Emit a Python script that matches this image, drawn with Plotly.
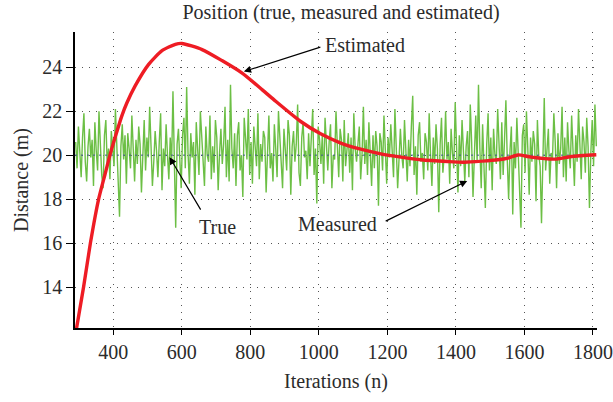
import plotly.graph_objects as go

# ---- data ----
iterations = list(range(290, 1811, 4))
measured = [
    20.6, 19.4, 21.3, 20.1, 19.0, 20.8, 21.9, 19.7, 18.8, 20.4, 21.2, 19.9, 20.7, 18.6, 21.5, 20.2, 19.3, 22.0, 20.5, 19.1,
    18.5, 20.9, 21.6, 19.6, 20.3, 18.9, 21.1, 20.0, 19.5, 22.1, 20.6, 19.2, 17.2, 20.4, 21.4, 19.8, 20.9, 18.7, 21.0, 20.3,
    19.4, 21.8, 20.2, 18.8, 20.7, 19.6, 21.3, 20.5, 18.3, 20.0, 21.6, 19.3, 20.8, 19.9, 22.2, 20.4, 18.6, 19.7, 21.1, 20.2,
    19.0, 20.6, 21.9, 18.4, 20.3, 19.5, 21.4, 20.0, 18.9, 20.8, 19.6, 22.9, 19.2, 16.7, 20.5, 21.2, 19.8, 18.5, 20.9, 21.7,
    19.4, 23.1, 20.1, 18.7, 21.0, 19.9, 20.6, 18.2, 21.5, 20.3, 19.1, 22.0, 20.7, 19.5, 18.6, 21.3, 20.0, 19.7, 21.8, 18.9,
    20.4, 19.2, 21.6, 20.8, 18.4, 20.1, 21.2, 19.6, 20.5, 22.2, 19.0, 20.7, 18.8, 23.2, 20.3, 19.4, 21.0, 18.6, 20.9, 21.5,
    19.3, 20.0, 18.1, 21.7, 20.4, 19.8, 22.1, 19.1, 20.6, 18.7, 21.3, 20.2, 19.5, 21.9, 18.9, 20.5, 19.7, 21.1, 20.8, 18.3,
    20.6, 21.8, 19.4, 20.1, 18.8, 21.4, 20.3, 19.0, 22.0, 20.7, 19.6, 18.5, 21.2, 20.0, 19.3, 21.6, 20.9, 18.2, 20.4, 21.1,
    19.7, 20.5, 22.3, 19.2, 18.6, 20.8, 21.5, 19.9, 20.2, 18.9, 21.0, 19.5, 20.6, 22.1, 19.1, 20.3, 17.8, 21.3, 20.7, 19.6,
    20.9, 18.7, 21.7, 20.1, 19.3, 20.6, 21.4, 18.5, 20.0, 19.8, 22.0, 20.4, 19.0, 21.2, 20.7, 18.8, 21.6, 19.5, 20.2, 21.0,
    19.2, 20.8, 18.4, 21.9, 20.3, 19.7, 20.5, 21.3, 18.9, 20.0, 22.2, 19.6, 20.7, 19.1, 21.5, 20.2, 18.6, 20.9, 19.4, 21.1,
    20.4, 17.7, 21.0, 20.6, 19.3, 21.8, 20.1, 18.7, 20.8, 19.9, 21.4, 20.3, 19.0, 22.1, 20.5, 18.5, 19.8, 21.2, 20.0, 19.4,
    21.6, 20.2, 18.8, 20.7, 19.5, 21.3, 22.7, 19.1, 20.4, 18.2, 20.9, 21.5, 19.7, 20.1, 18.9, 21.0, 20.6, 19.3, 21.9, 20.0,
    18.6, 20.8, 19.6, 21.4, 20.3, 17.4, 20.5, 21.7, 19.2, 20.0, 22.0, 19.8, 20.6, 18.7, 21.2, 20.1, 19.4, 22.4, 20.7, 18.3,
    20.9, 19.5, 21.6, 20.2, 18.8, 20.4, 21.1, 19.0, 22.3, 20.6, 18.1, 20.0, 21.8, 19.7, 23.2, 20.3, 18.5, 21.4, 19.9, 17.6,
    20.5, 21.9, 19.3, 20.8, 18.4, 21.2, 20.0, 19.6, 22.1, 20.4, 18.9, 21.5, 19.1, 20.7, 22.5, 19.8, 18.0, 20.2, 21.3, 17.3,
    20.6, 19.4, 21.7, 20.1, 18.6, 16.7, 20.9, 21.4, 19.2, 22.0, 20.3, 18.2, 20.8, 19.7, 21.1, 20.5, 17.9, 21.6, 20.0, 19.5,
    16.9, 20.7, 22.6, 19.3, 20.4, 21.2, 18.7, 20.1, 19.8, 21.9, 20.6, 18.5, 21.0, 19.6, 20.3, 22.2, 19.0, 20.8, 18.8, 21.5,
    20.2, 19.4, 21.8, 20.5, 18.6, 20.9, 19.7, 22.1, 20.0, 18.9, 21.3, 20.6, 19.2, 21.7, 20.4, 17.6, 20.1, 21.6, 19.5, 22.3,
    20.4,
]
true_n = [288, 1812]
true_d = [20.0, 20.0]
est_n = [290, 313, 333, 357, 376, 390, 405, 425, 439, 464, 503, 542, 581, 600, 659, 717, 776, 835, 874, 947,
         1005, 1064, 1122, 1181, 1240, 1298, 1376, 1425, 1523, 1555, 1581, 1620, 1688, 1737, 1810]
est_d = [11.9, 14.0, 16.0, 18.0, 19.15, 20.0, 20.8, 21.8, 22.36, 23.16, 24.13, 24.75, 25.04, 25.08, 24.8, 24.3,
         23.73, 22.97, 22.45, 21.53, 20.97, 20.55, 20.27, 20.06, 19.91, 19.79, 19.71, 19.68, 19.79, 19.88,
         20.01, 19.91, 19.82, 19.94, 20.02]
x_ticks = [400, 600, 800, 1000, 1200, 1400, 1600, 1800]
y_ticks = [14, 16, 18, 20, 22, 24]

FONT = "Liberation Serif"
TXT = "#2b2b2b"
W0, W1, H0, H1 = 75, 597, 32, 328  # plot area in pixels


def paper(xp, yp):
    return (xp - W0) / (W1 - W0), 1 - (yp - H0) / (H1 - H0)


fig = go.Figure()
fig.add_trace(go.Scatter(x=iterations, y=measured, mode="lines",
                         line=dict(color="#6cbf45", width=1.4), showlegend=False))
fig.add_trace(go.Scatter(x=true_n, y=true_d, mode="lines",
                         line=dict(color="#44558f", width=1, dash="2px,4px"), showlegend=False))
fig.add_trace(go.Scatter(x=est_n, y=est_d, mode="lines", line_shape="spline",
                         line=dict(color="#ee1c24", width=3.4, smoothing=0.6), showlegend=False))

ann_font = dict(family=FONT, size=20, color=TXT)
ex, ey = paper(323, 45)
tx, ty = paper(197, 227)
mx, my = paper(296, 224)
arrow = dict(xref="x", yref="y", text="", showarrow=True, arrowhead=2, arrowsize=1.2,
             arrowwidth=1.2, arrowcolor="black")

fig.update_layout(
    width=613, height=402,
    margin=dict(l=W0, r=613 - W1, t=H0, b=402 - H1, autoexpand=False),
    paper_bgcolor="white", plot_bgcolor="white",
    font=dict(family=FONT, size=20, color=TXT),
    title=dict(text="Position (true, measured and estimated)", x=341 / 613, xanchor="center",
               y=1 - 12 / 402, yanchor="middle", font=dict(family=FONT, size=20, color=TXT)),
    xaxis=dict(range=[288, 1812], tickvals=x_ticks, showline=True, linecolor="black", linewidth=1.5,
               ticks="outside", ticklen=5, tickcolor="black", showgrid=True, gridcolor="#555",
               griddash="1px,6px", gridwidth=1, zeroline=False, automargin=False,
               title=dict(text="Iterations (n)", font=dict(family=FONT, size=20, color=TXT), standoff=12),
               tickfont=dict(family=FONT, size=20, color=TXT)),
    yaxis=dict(range=[12.14, 25.6], tickvals=y_ticks, showline=True, linecolor="black", linewidth=1.5,
               ticks="outside", ticklen=7, tickcolor="black", showgrid=True, gridcolor="#555",
               griddash="1px,6px", gridwidth=1, zeroline=False, automargin=False,
               title=dict(text="Distance (m)", font=dict(family=FONT, size=20, color=TXT), standoff=8),
               tickfont=dict(family=FONT, size=20, color=TXT)),
    annotations=[
        dict(x=781, y=23.8, ax=78, ay=-25, **arrow),
        dict(x=564, y=19.91, ax=32, ay=54, **arrow),
        dict(x=1433, y=18.83, ax=-83, ay=41, **arrow),
        dict(x=ex, y=ey, xref="paper", yref="paper", text="Estimated", showarrow=False,
             font=ann_font, xanchor="left", yanchor="middle"),
        dict(x=tx, y=ty, xref="paper", yref="paper", text="True", showarrow=False,
             font=ann_font, xanchor="left", yanchor="middle"),
        dict(x=mx, y=my, xref="paper", yref="paper", text="Measured", showarrow=False,
             font=ann_font, xanchor="left", yanchor="middle"),
    ],
)

fig.write_html("out.html", config={"displayModeBar": False},
               post_script="document.body.style.margin='0px';")
